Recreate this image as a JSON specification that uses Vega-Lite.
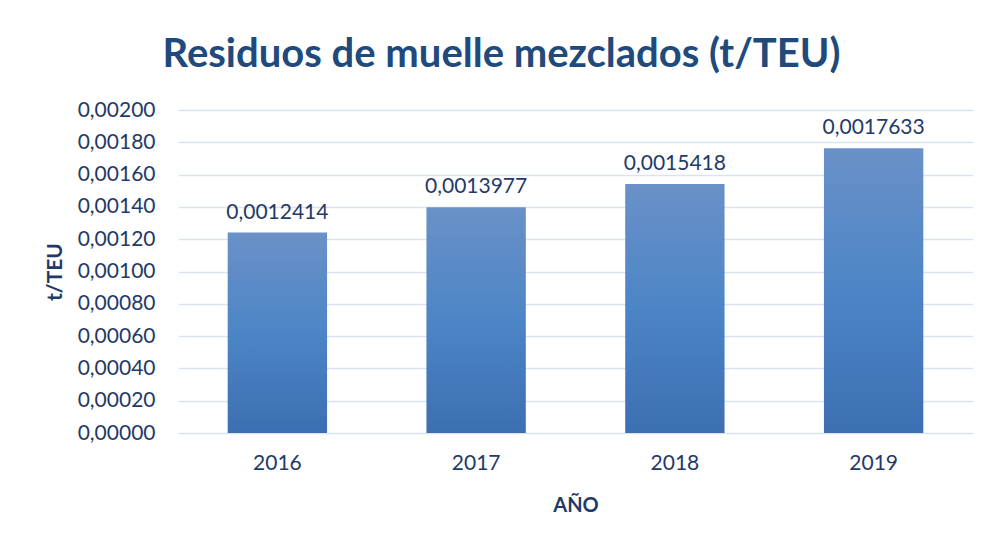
{
  "$schema": "https://vega.github.io/schema/vega-lite/v6.json",
  "width": 795,
  "height": 323,
  "autosize": {"type": "none"},
  "padding": {"left": 178, "top": 110, "right": 17, "bottom": 111},
  "background": "white",
  "config": {
    "locale": {"number": {"decimal": ",", "thousands": ".", "grouping": [3], "currency": ["", " €"]}},
    "view": {"stroke": null},
    "font": "Lato"
  },
  "title": {
    "text": "Residuos de muelle mezclados (t/TEU)",
    "font": "Lato",
    "fontSize": 40,
    "fontWeight": "bold",
    "color": "#214A7C",
    "anchor": "middle",
    "offset": -16,
    "dx": -74,
    "baseline": "bottom"
  },
  "data": {
    "values": [
      {"year": "2016", "value": 0.0012414},
      {"year": "2017", "value": 0.0013977},
      {"year": "2018", "value": 0.0015418},
      {"year": "2019", "value": 0.0017633}
    ]
  },
  "encoding": {
    "x": {
      "field": "year",
      "type": "nominal",
      "scale": {"paddingInner": 0.5, "paddingOuter": 0.25},
      "axis": {
        "title": "AÑO",
        "labelAngle": 0,
        "labelFont": "Lato",
        "labelFontSize": 21,
        "labelColor": "#1F3A68",
        "labelPadding": 19,
        "titleFont": "Lato",
        "titleFontSize": 20,
        "titleFontWeight": "bold",
        "titleColor": "#1F3A68",
        "titlePadding": 22,
        "ticks": false,
        "domain": false
      }
    },
    "y": {
      "field": "value",
      "type": "quantitative",
      "scale": {"domain": [0, 0.002], "nice": false},
      "axis": {
        "title": "t/TEU",
        "values": [0, 0.0002, 0.0004, 0.0006, 0.0008, 0.001, 0.0012, 0.0014, 0.0016, 0.0018, 0.002],
        "format": ".5f",
        "labelFont": "Lato",
        "labelFontSize": 21,
        "labelColor": "#1F3A68",
        "labelPadding": 23,
        "titleFont": "Lato",
        "titleFontSize": 21,
        "titleFontWeight": "bold",
        "titleColor": "#1F3A68",
        "titlePadding": 12,
        "ticks": false,
        "domain": false,
        "gridColor": "#D9E3F3",
        "gridWidth": 1.5
      }
    }
  },
  "layer": [
    {
      "mark": {
        "type": "bar",
        "color": {
          "gradient": "linear",
          "x1": 0, "y1": 0, "x2": 0, "y2": 1,
          "stops": [
            {"offset": 0, "color": "#6A91C8"},
            {"offset": 0.5, "color": "#4C85C6"},
            {"offset": 1, "color": "#3C6FB1"}
          ]
        }
      }
    },
    {
      "mark": {"type": "text", "baseline": "bottom", "dy": -10, "font": "Lato", "fontSize": 21, "color": "#1F3A68"},
      "encoding": {"text": {"field": "value", "type": "quantitative", "format": ".7f"}}
    }
  ]
}
